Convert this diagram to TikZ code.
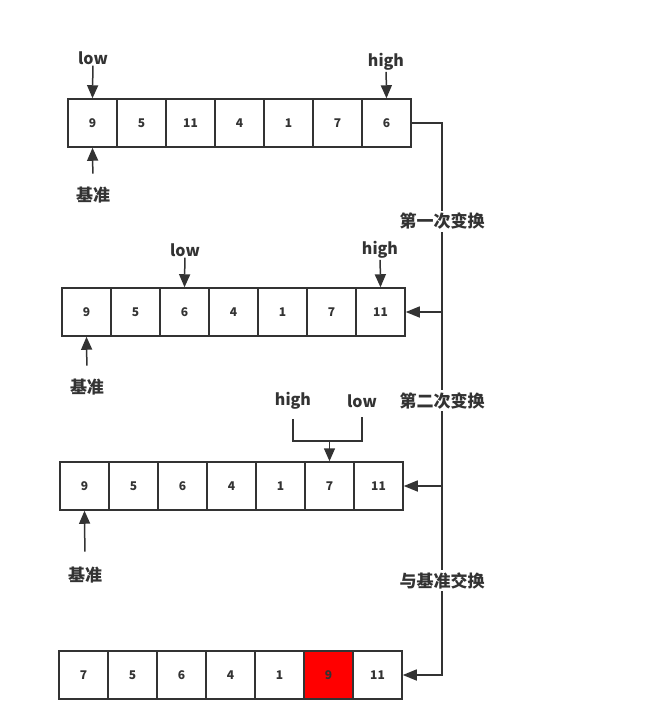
\documentclass[tikz,border=0pt]{standalone}
\usepackage{fontspec}
\setmainfont{Noto Sans CJK SC}
\usepackage{tikz}
\usetikzlibrary{arrows.meta, positioning, calc}
\definecolor{qline}{HTML}{333333}
\definecolor{qred}{HTML}{FF0000}
\tikzset{
  cell/.style={rectangle, draw=qline, line width=1.5pt, minimum width=49pt, minimum height=48pt,
               inner sep=0pt, text=qline, font=\fontsize{12}{14}\selectfont\bfseries},
  hot/.style={fill=qred},
  tag/.style={text=qline, inner sep=1pt, font=\fontsize{16}{18}\selectfont\bfseries},
  pivot/.style={text=qline, inner sep=1pt, font=\fontsize{17}{19}\selectfont\bfseries},
  phase/.style={fill=white, text=qline, inner sep=2pt, font=\fontsize{17}{19}\selectfont\bfseries},
  wire/.style={draw=qline, line width=1.5pt},
  ptr/.style={-{Triangle[length=13pt, width=11pt]}, draw=qline, line width=1.5pt},
  swap/.style={-{Triangle[length=14pt, width=11pt]}, draw=qline, line width=1.5pt}
}

\begin{document}
\begin{tikzpicture}[x=1pt, y=-1pt]
  \useasboundingbox (0,0) rectangle (650,724);
  \coordinate (bus) at (442,0);
  % the four rows
  \foreach \v [count=\i] in {9,5,11,4,1,7,6}
    \node[cell] (r1c\i) at ({68+49*(\i-0.5)},123) {\v};
  \foreach \v [count=\i] in {9,5,6,4,1,7,11}
    \node[cell] (r2c\i) at ({62+49*(\i-0.5)},312) {\v};
  \foreach \v [count=\i] in {9,5,6,4,1,7,11}
    \node[cell] (r3c\i) at ({60+49*(\i-0.5)},486) {\v};
  \foreach \v [count=\i] in {7,5,6,4,1,9,11}
    \node[cell] (r4c\i) at ({59+49*(\i-0.5)},675) {\v};
  \node[cell, hot] at (r4c6) {9};

  % pointers, row 1
  \node[tag] (lo1) at (93,58) {low};
  \node[tag] (hi1) at (386,62) {high};
  \node[pivot] (pv1) at (93,195) {基准};
  \draw[ptr] (lo1) -- (r1c1.north);
  \draw[ptr] (hi1) -- (r1c7.north);
  \draw[ptr, shorten <=12pt] (pv1.north) -- (r1c1.south);

  % pointers, row 2
  \node[tag] (lo2) at (185,250) {low};
  \node[tag] (hi2) at (380,250) {high};
  \node[pivot] (pv2) at (87,387) {基准};
  \draw[ptr] (lo2) -- (r2c3.north);
  \draw[ptr] (hi2) -- (r2c7.north);
  \draw[ptr, shorten <=12pt] (pv2.north) -- (r2c1.south);

  % pointers, row 3
  \node[tag] (hi3) at (293,401) {high};
  \node[tag] (lo3) at (362,401) {low};
  \node[pivot] (pv3) at (85,575) {基准};
  \coordinate (jn3) at (r3c6.north |- 0,441);
  \draw[wire, shorten <=8pt, shorten >=8pt] (hi3.south) |- (jn3) -| (lo3.south);
  \draw[ptr] (jn3) -- (r3c6.north);
  \draw[ptr, shorten <=14pt] (pv3.north) -- (r3c1.south);

  % swaps
  \draw[swap] (r1c7.east) -- (r1c7.east -| bus)
    -- node[phase, pos=0.52] {第一次变换} (r2c7.east -| bus) -- (r2c7.east);
  \draw[swap] (r2c7.east -| bus)
    -- node[phase, pos=0.51] {第二次变换} (r3c7.east -| bus) -- (r3c7.east);
  \draw[swap] (r3c7.east -| bus)
    -- node[phase] {与基准交换} (r4c7.east -| bus) -- (r4c7.east);
\end{tikzpicture}
\end{document}
